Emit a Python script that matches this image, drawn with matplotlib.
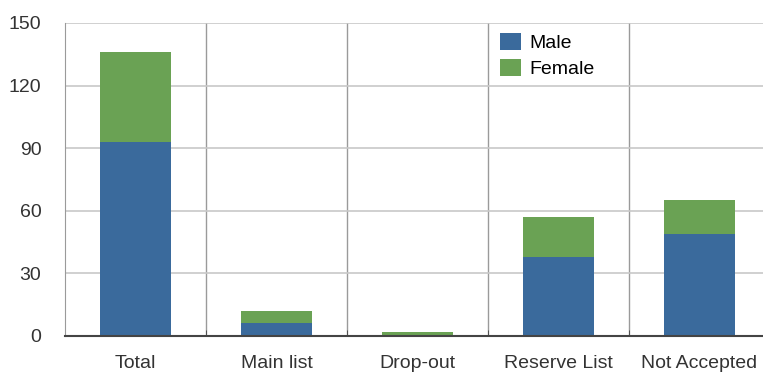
import numpy as np
import matplotlib.pyplot as plt

categories = ["Total", "Main list", "Drop-out", "Reserve List", "Not Accepted"]
male = [93, 6, 0, 38, 49]
female = [43, 6, 2, 19, 16]
y_ticks = [0, 30, 60, 90, 120, 150]

plt.rcParams['font.family'] = ['Liberation Sans', 'DejaVu Sans']

fig = plt.figure(figsize=(7.63, 3.74), dpi=100)
# axes runs slightly past the right edge, as in the original
ax = fig.add_axes([65 / 763, 1 - 336 / 374, 705 / 763, 313 / 374])

x = np.arange(len(categories))
ax.bar(x, male, width=0.5, color="#3a6a9c", label="Male", zorder=3)
ax.bar(x, female, width=0.5, bottom=male, color="#6aa254", label="Female", zorder=3)

ax.set_xlim(-0.5, len(categories) - 0.5)
ax.set_ylim(0, 150)
ax.set_yticks(y_ticks)
ax.yaxis.grid(True, color="#c8c8c8", linewidth=1.2, zorder=0)

# vertical separators between categories
for b in np.arange(0.5, len(categories) - 0.5, 1):
    ax.axvline(b, color="#9a9a9a", linewidth=1, zorder=1)

ax.set_xticks(x)
ax.set_xticklabels(categories)
ax.set_xticks(np.arange(-0.5, len(categories), 1), minor=True)
ax.tick_params(axis="x", which="major", length=0, pad=14, labelsize=14, labelcolor="#333333")
ax.tick_params(axis="x", which="minor", length=4, direction="in", color="#444444")
ax.tick_params(axis="y", length=0, pad=17, labelsize=14, labelcolor="#333333")

for s in ["top", "right"]:
    ax.spines[s].set_visible(False)
ax.spines["left"].set_color("#9a9a9a")
ax.spines["bottom"].set_color("#444444")
ax.spines["bottom"].set_linewidth(1.5)
ax.spines["bottom"].set_zorder(4)

ax.legend(loc="upper left", bbox_to_anchor=(0.592, 1.025), frameon=False,
          fontsize=14, handlelength=1.1, handleheight=1.0, handletextpad=0.4,
          labelspacing=0.35)

fig.savefig("out.png", dpi=100)
